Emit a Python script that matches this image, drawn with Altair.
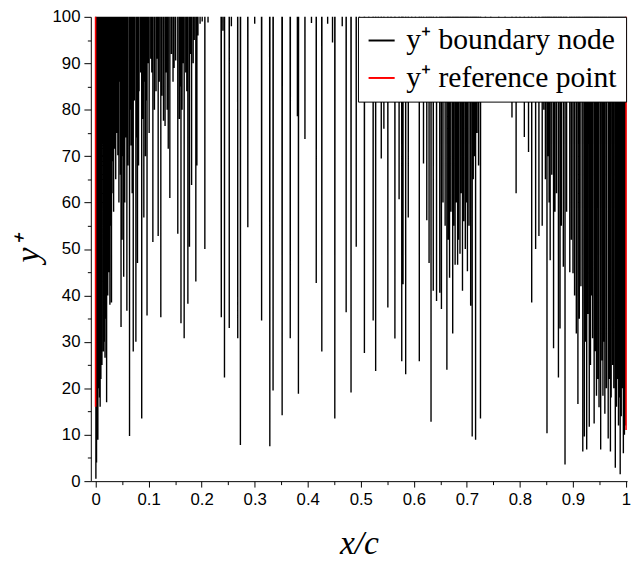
import altair as alt
import pandas as pd

# y+ value used for wall nodes whose y+ lies far above the plotted range (clipped at 100)
ABOVE = 2000.0

# y+ boundary node: local minima of the y+ trace (x/c, y+)
node_x = [
    0.0006, 0.0018, 0.0025, 0.0043, 0.006, 0.0075, 0.0086, 0.010, 0.012, 0.0147, 0.0165, 0.0178,
    0.0195, 0.0208, 0.023, 0.025, 0.027, 0.028, 0.030, 0.031, 0.033, 0.034, 0.036, 0.038, 0.039,
    0.040, 0.042, 0.044, 0.045, 0.047, 0.048, 0.050, 0.052, 0.053, 0.055, 0.057, 0.059, 0.061,
    0.064, 0.066, 0.067, 0.069, 0.071, 0.073, 0.076, 0.078, 0.079, 0.081, 0.082, 0.085, 0.087,
    0.089, 0.091, 0.092, 0.094, 0.096, 0.097, 0.099, 0.101, 0.104, 0.106, 0.108, 0.111, 0.114,
    0.116, 0.118, 0.120, 0.123, 0.125, 0.128, 0.131, 0.133, 0.135, 0.137, 0.140, 0.143, 0.146,
    0.148, 0.151, 0.155, 0.158, 0.159, 0.161, 0.163, 0.165, 0.167, 0.170, 0.172, 0.174, 0.177,
    0.179, 0.181, 0.184, 0.186, 0.189, 0.191, 0.193, 0.197, 0.201, 0.206, 0.212,
    0.237, 0.240, 0.243, 0.252, 0.256, 0.268, 0.273, 0.287, 0.300, 0.313, 0.3285, 0.3346,
    0.3517, 0.367, 0.3805, 0.3824, 0.3947, 0.407, 0.416, 0.4265, 0.4375, 0.4467, 0.451, 0.465,
    0.4724, 0.4816, 0.4914, 0.4975, 0.5068, 0.515, 0.5233, 0.528, 0.533, 0.5386, 0.5435, 0.551,
    0.557, 0.5643, 0.5722, 0.5772, 0.5796, 0.5846, 0.5895, 0.596, 0.603, 0.6103, 0.614, 0.6182,
    0.6244, 0.6287, 0.6324, 0.6366, 0.6428, 0.6489, 0.652, 0.655, 0.659, 0.6623, 0.665, 0.6673,
    0.670, 0.6733, 0.675, 0.6778, 0.680, 0.6825, 0.684, 0.687, 0.689, 0.6917, 0.694, 0.697,
    0.699, 0.701, 0.704, 0.7071, 0.710, 0.712, 0.714, 0.7164, 0.719, 0.722, 0.7256, 0.735,
    0.745, 0.760, 0.772, 0.785, 0.7928, 0.800, 0.8083, 0.8162, 0.8222, 0.8296, 0.8358, 0.842,
    0.845, 0.848, 0.851, 0.853, 0.855, 0.857, 0.860, 0.8634, 0.866, 0.869, 0.8726, 0.8756,
    0.878, 0.8818, 0.885, 0.888, 0.894, 0.897, 0.900, 0.903, 0.9063, 0.9093, 0.912, 0.915,
    0.9185, 0.9215, 0.924, 0.9259, 0.928, 0.9307, 0.933, 0.935, 0.9369, 0.9399, 0.942, 0.9443,
    0.947, 0.9491, 0.9522, 0.955, 0.9565, 0.958, 0.9601, 0.963, 0.9664, 0.968, 0.9706, 0.972,
    0.9748, 0.977, 0.9798, 0.982, 0.984, 0.9858, 0.988, 0.989, 0.991, 0.993, 0.995, 0.997, 0.999,
]
node_yplus = [
    0.5, 4.0, 12, 8.9, 20, 18, 16, 22, 25, 27.9, 30, 26.6,
    35, 17, 40, 45, 38, 55, 38.5, 62, 68.9, 58, 71.6, 65, 80.8,
    75, 70.2, 60, 86, 66, 33.2, 52, 70, 44, 60, 74, 36.7, 68,
    9.7, 80, 72.3, 62, 27.9, 82, 30, 74, 47, 68, 84, 88, 13.5,
    78, 56.8, 86, 70, 82, 35.7, 90, 75, 91, 88, 51.5, 80, 84,
    91, 52.8, 86, 35.3, 83, 77.6, 76.5, 88, 80, 71.6, 61, 92, 86,
    89, 90.6, 53.3, 78, 85, 34, 80, 90, 30.8, 88, 84, 38.2, 50.5,
    92, 63.8, 90, 95, 43, 68, 96, 98.5, 99, 50, 98.8,
    35.3, 97, 22.3, 33, 98, 30.8, 7.8, 54.7, 98.5, 34.6, 7.5, 19.5,
    14.2, 30.8, 78.6, 18.8, 73.7, 98.7, 42.7, 27.9, 98.5, 94.5, 13.5, 98,
    36.4, 19.1, 50.5, 92, 27.6, 90, 34.6, 23.7, 88, 69.5, 75.9, 37.4,
    90, 30.7, 60.7, 25.8, 42.4, 23, 56.8, 92, 88, 25.8, 82, 68.4,
    56.2, 47, 12.8, 41, 38.8, 40.6, 37.1, 60, 55, 24, 52, 43.8,
    58, 31.8, 55, 46.6, 60, 46.6, 52, 49, 62, 41, 56, 50,
    60, 45.2, 55, 37.8, 9.6, 65, 70, 8.9, 75, 68, 13.5, 95,
    97, 96, 94, 78.3, 62, 90, 74.1, 70.9, 38.5, 50, 52.8, 55,
    80, 65, 10.3, 70, 60, 47.6, 66, 28.6, 58, 62, 22.3, 32.9,
    55, 46.2, 3.6, 58, 45, 52, 44.8, 40, 31.8, 16.6, 35, 42,
    6.4, 9.6, 30, 6.8, 36, 11.7, 25, 40, 30.8, 12.4, 28, 18.4,
    22, 15.9, 6.8, 26, 18.4, 30, 14.5, 20, 9.2, 22, 6.4, 18,
    25, 20, 2.9, 16, 22, 12, 18, 1.5, 14, 20, 6, 10, 12,
]

# y+ reference point: visible only at the leading and trailing edge
ref_x = [0.0, 0.0, 1.0, 1.0]
ref_yplus = [16.0, ABOVE, 11.0, ABOVE]
ref_part = ["leading edge", "leading edge", "trailing edge", "trailing edge"]

x_ticks = [round(i * 0.05, 2) for i in range(21)]
y_ticks = list(range(0, 101, 5))

LAB_NODE = "y⁺ boundary node"
LAB_REF = "y⁺ reference point"

# build the boundary-node trace: valleys joined through clipped peaks
pairs = sorted(zip(node_x, node_yplus))
rows = [{"x": pairs[0][0], "yplus": ABOVE}]
for i, (xv, yv) in enumerate(pairs):
    rows.append({"x": xv, "yplus": yv})
    if i + 1 < len(pairs):
        rows.append({"x": (xv + pairs[i + 1][0]) / 2, "yplus": ABOVE})
rows.append({"x": 1.0, "yplus": ABOVE})
nodes = pd.DataFrame(rows)
nodes["order"] = range(len(nodes))
nodes["series"] = LAB_NODE
nodes["part"] = "wall"

ref = pd.DataFrame({"x": ref_x, "yplus": ref_yplus, "part": ref_part})
ref["order"] = range(len(ref))
ref["series"] = LAB_REF

x_enc = alt.X(
    "x:Q",
    scale=alt.Scale(domain=[-0.009, 1.002], nice=False, zero=False),
    axis=alt.Axis(
        values=x_ticks,
        title="x/c",
        labelExpr="round(datum.value*20) % 2 === 0 ? format(datum.value, '~g') : ''",
        tickSize={"condition": {"test": "round(datum.value*20) % 2 === 0", "value": 6}, "value": 3.5},
        labelPadding=5,
        titlePadding=19,
    ),
)
y_enc = alt.Y(
    "yplus:Q",
    scale=alt.Scale(domain=[0, 100], nice=False, zero=False),
    axis=alt.Axis(
        values=y_ticks,
        title="y⁺",
        labelExpr="datum.value % 10 === 0 ? datum.label : ''",
        tickSize={"condition": {"test": "datum.value % 10 === 0", "value": 7}, "value": 3.5},
        labelPadding=4,
        titlePadding=7,
    ),
)
color_enc = alt.Color(
    "series:N",
    scale=alt.Scale(domain=[LAB_NODE, LAB_REF], range=["#000000", "#ff0000"]),
    legend=alt.Legend(
        title=None,
        orient="none",
        legendX=271,
        legendY=0,
        fillColor="white",
        strokeColor="black",
        padding=9,
        cornerRadius=0,
        symbolType="stroke",
        symbolStrokeWidth=2,
        symbolSize=700,
        labelFont="Liberation Serif",
        labelFontSize=30,
        labelColor="black",
        labelLimit=600,
        labelOffset=10,
        rowPadding=8,
    ),
)

black = alt.Chart(nodes).mark_line(clip=True, strokeWidth=1.4, strokeJoin="bevel").encode(
    x=x_enc, y=y_enc, color=color_enc, order="order:Q", detail="part:N"
)
red = alt.Chart(ref).mark_line(clip=True, strokeWidth=1.6).encode(
    x=x_enc, y=y_enc, color=color_enc, order="order:Q", detail="part:N"
)

chart = (
    alt.layer(black, red)
    .properties(
        width=544,
        height=471,
        autosize=alt.AutoSizeParams(type="none"),
        padding={"left": 84, "top": 5, "right": 6, "bottom": 76},
        background="white",
    )
    .configure_view(stroke=None)
    .configure_axis(
        grid=False,
        domainColor="black",
        domainWidth=1,
        tickColor="black",
        tickWidth=1,
        labelColor="black",
        labelFont="Liberation Sans",
        labelFontSize=17,
        titleColor="black",
        titleFont="Liberation Serif",
        titleFontStyle="italic",
        titleFontWeight="normal",
        titleFontSize=34,
    )
)

chart.save("out.html", embed_options={"renderer": "svg", "actions": False})
